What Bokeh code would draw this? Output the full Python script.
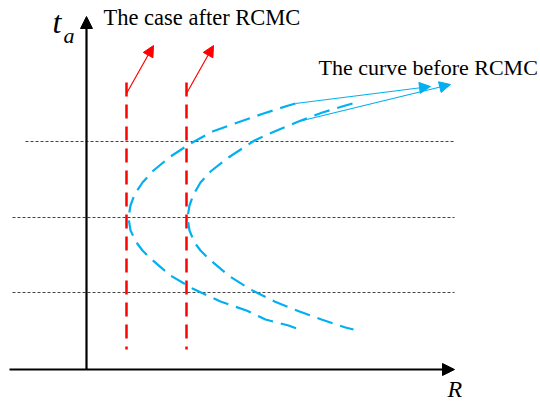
from bokeh.plotting import figure
from bokeh.models import Range1d, Arrow, NormalHead
from bokeh.core.properties import value
from bokeh.embed import file_html
from bokeh.resources import INLINE

# Range-migration sketch in screen-like units (x: range R, y: azimuth time t_a, downwards)

# Horizontal reference (azimuth time) levels
guide_y = [141, 217, 292]
guide_x0 = [25, 12, 12]
guide_x1 = [454, 454, 454]

# Straight trajectories after RCMC
after_x = [126, 186]
after_top = [82, 82]
after_bottom = [349, 349]

# Curved trajectories before RCMC (near target, far target)
curve1_x = [295, 288, 263, 240, 212, 190, 170, 153, 142, 134, 130, 128,
            130, 136, 142, 150, 170, 192, 220, 246, 265, 288, 296]
curve1_y = [103, 105, 113, 121, 131, 143, 156, 170, 182, 194, 205, 217,
            230, 242, 250, 258, 275, 288, 301, 310, 319, 325, 328]
curve2_x = [352, 345, 322, 298, 274, 254, 228, 210, 200, 193, 189, 187,
            189, 194, 200, 208, 228, 250, 274, 299, 321, 345, 353]
curve2_y = [103, 105, 112, 121, 131, 140, 157, 171, 182, 194, 205, 217,
            230, 242, 250, 258, 275, 289, 301, 311, 319, 327, 329]

# Pointer arrows to the captions
red_start_x = [126, 186]
red_start_y = [93, 93]
red_end_x = [153, 213]
red_end_y = [45, 45]
blue_start_x = [295, 302]
blue_start_y = [103, 120]
blue_end_x = [430, 450]
blue_end_y = [86, 84]

# Coordinate axes (start -> arrow tip)
axis_start = [(86, 369), (9, 369)]
axis_end = [(86, 16), (454, 369)]

# Captions
caption_after = "The case after RCMC"
caption_before = "The curve before RCMC"

RED = "#FF0000"
BLUE = "#00B0F0"
SERIF = value("Liberation Serif")

p = figure(width=540, height=402, x_range=Range1d(0, 540), y_range=Range1d(402, 0),
           output_backend="svg", toolbar_location=None, min_border=0)
p.axis.visible = False
p.grid.visible = False
p.outline_line_color = None
p.background_fill_color = "white"
p.border_fill_color = "white"

# dotted level lines
p.segment(x0=guide_x0, y0=guide_y, x1=guide_x1, y1=guide_y,
          line_color="#444444", line_width=1, line_dash="3 2")

# after-RCMC straight lines
p.segment(x0=after_x, y0=after_top, x1=after_x, y1=after_bottom,
          line_color=RED, line_width=2.5, line_dash="14 8")

# before-RCMC curves
p.line(curve1_x, curve1_y, line_color=BLUE, line_width=2.2, line_dash="16 8")
p.line(curve2_x, curve2_y, line_color=BLUE, line_width=2.2, line_dash="16 8")

# axes with arrow heads
for (xs, ys), (xe, ye) in zip(axis_start, axis_end):
    p.add_layout(Arrow(x_start=xs, y_start=ys, x_end=xe, y_end=ye,
                       line_color="black", line_width=2.2,
                       end=NormalHead(size=12, fill_color="black", line_color="black")))

# caption pointers
for xs, ys, xe, ye in zip(red_start_x, red_start_y, red_end_x, red_end_y):
    p.add_layout(Arrow(x_start=xs, y_start=ys, x_end=xe, y_end=ye,
                       line_color=RED, line_width=1.2,
                       end=NormalHead(size=11, fill_color=RED, line_color=RED)))
for xs, ys, xe, ye in zip(blue_start_x, blue_start_y, blue_end_x, blue_end_y):
    p.add_layout(Arrow(x_start=xs, y_start=ys, x_end=xe, y_end=ye,
                       line_color=BLUE, line_width=1.2,
                       end=NormalHead(size=11, fill_color=BLUE, line_color=BLUE)))

# captions
p.text(x=[103], y=[17], text=[caption_after], text_font=SERIF,
       text_font_size="22.5px", text_color="black", text_baseline="alphabetic")
p.text(x=[318], y=[67], text=[caption_before], text_font=SERIF,
       text_font_size="22px", text_color="black", text_baseline="alphabetic")

# axis labels
p.text(x=[52], y=[21], text=["t"], text_font=SERIF, text_font_size="32px",
       text_font_style="italic", text_color="black", text_baseline="alphabetic")
p.text(x=[63], y=[35], text=["a"], text_font=SERIF, text_font_size="22px",
       text_font_style="italic", text_color="black", text_baseline="alphabetic")
p.text(x=[447], y=[388], text=["R"], text_font=SERIF, text_font_size="24px",
       text_font_style="italic", text_color="black", text_baseline="alphabetic")

open("out.html", "w").write(file_html(p, INLINE))
